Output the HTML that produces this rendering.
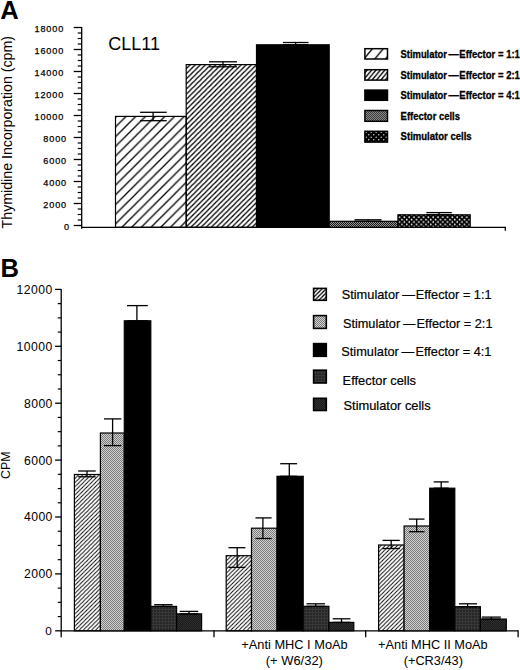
<!DOCTYPE html>
<html><head><meta charset="utf-8"><style>
html,body{margin:0;padding:0;background:#fff;width:520px;height:670px;overflow:hidden}
svg{display:block}
text{font-family:"Liberation Sans", sans-serif}
</style></head><body><svg width="520" height="670" viewBox="0 0 520 670" font-family='"Liberation Sans", sans-serif' fill="#000">
<defs>
<pattern id="hA1" patternUnits="userSpaceOnUse" width="9.7" height="9.7">
 <path d="M-1,1 L1,-1 M0,9.7 L9.7,0 M8.7,10.7 L10.7,8.7" stroke="#000" stroke-width="1.3"/>
</pattern>
<pattern id="hA2" patternUnits="userSpaceOnUse" width="5.1" height="5.1">
 <path d="M-1,1 L1,-1 M0,5.1 L5.1,0 M4.1,6.1 L6.1,4.1" stroke="#000" stroke-width="1.3"/>
</pattern>
<pattern id="hB1" patternUnits="userSpaceOnUse" width="4.1" height="4.1">
 <path d="M-1,1 L1,-1 M0,4.1 L4.1,0 M3.1,5.1 L5.1,3.1" stroke="#000" stroke-width="0.95"/>
</pattern>
<pattern id="hL1" patternUnits="userSpaceOnUse" x="362.1" y="48.2" width="10.8" height="13">
 <path d="M-1,1.2 L1,-1.2 M0,13 L10.8,0 M9.8,14.2 L11.8,11.8" stroke="#000" stroke-width="1.4"/>
</pattern>
<pattern id="hL2" patternUnits="userSpaceOnUse" x="367.9" y="69.2" width="4.4" height="5.3">
 <path d="M-1,1.2 L1,-1.2 M0,5.3 L4.4,0 M3.4,6.5 L5.4,4.1" stroke="#000" stroke-width="1.3"/>
</pattern>
<pattern id="chkL" patternUnits="userSpaceOnUse" width="2" height="2">
 <rect width="2" height="2" fill="#8a8a8a"/><rect width="1" height="1" fill="#3a3a3a"/><rect x="1" y="1" width="1" height="1" fill="#3a3a3a"/>
</pattern>
<pattern id="dotsL" patternUnits="userSpaceOnUse" x="365" y="131" width="5" height="5">
 <rect width="5" height="5" fill="#000"/>
 <circle cx="1.2" cy="1.2" r="0.75" fill="#ccc"/><circle cx="3.7" cy="3.7" r="0.75" fill="#ccc"/>
</pattern>
<pattern id="hLB1" patternUnits="userSpaceOnUse" width="4.1" height="4.1">
 <path d="M-1,1 L1,-1 M0,4.1 L4.1,0 M3.1,5.1 L5.1,3.1" stroke="#000" stroke-width="1.3"/>
</pattern>
<pattern id="chk" patternUnits="userSpaceOnUse" width="2" height="2">
 <rect width="2" height="2" fill="#d2d2d2"/><rect width="1" height="1" fill="#7a7a7a"/><rect x="1" y="1" width="1" height="1" fill="#7a7a7a"/>
</pattern>
<pattern id="chkA" patternUnits="userSpaceOnUse" width="2" height="2">
 <rect width="2" height="2" fill="#959595"/><rect width="1" height="1" fill="#1a1a1a"/><rect x="1" y="1" width="1" height="1" fill="#1a1a1a"/>
</pattern>
<pattern id="dots" patternUnits="userSpaceOnUse" width="4.8" height="4.8">
 <rect width="4.8" height="4.8" fill="#000"/>
 <circle cx="1.2" cy="1.2" r="0.85" fill="#fff"/><circle cx="3.6" cy="3.6" r="0.85" fill="#fff"/>
</pattern>
<pattern id="dk4" patternUnits="userSpaceOnUse" width="3" height="3">
 <rect width="3" height="3" fill="#262626"/><rect width="3" height="1" fill="#383838"/><rect width="1" height="3" fill="#383838"/>
</pattern>
<pattern id="dk5" patternUnits="userSpaceOnUse" width="2" height="2">
 <rect width="2" height="2" fill="#1a1a1a"/><rect width="1" height="1" fill="#303030"/><rect x="1" y="1" width="1" height="1" fill="#303030"/>
</pattern>
</defs><text x="0.2" y="18.8" font-size="25.6" font-weight="bold" text-anchor="start">A</text>
<line x1="81.7" y1="27.0" x2="81.7" y2="228.8" stroke="#000" stroke-width="1.3"/>
<line x1="73.7" y1="225.5" x2="81.7" y2="225.5" stroke="#000" stroke-width="1.3"/>
<text x="64.00" y="230.00" font-size="9.1" stroke="#000" stroke-width="0.25">0</text>
<line x1="73.7" y1="203.5" x2="81.7" y2="203.5" stroke="#000" stroke-width="1.3"/>
<text x="43.30" y="208.00" font-size="9.1" textLength="22.80" lengthAdjust="spacing" stroke="#000" stroke-width="0.25">2000</text>
<line x1="73.7" y1="181.5" x2="81.7" y2="181.5" stroke="#000" stroke-width="1.3"/>
<text x="43.30" y="186.00" font-size="9.1" textLength="22.80" lengthAdjust="spacing" stroke="#000" stroke-width="0.25">4000</text>
<line x1="73.7" y1="159.5" x2="81.7" y2="159.5" stroke="#000" stroke-width="1.3"/>
<text x="43.30" y="164.00" font-size="9.1" textLength="22.80" lengthAdjust="spacing" stroke="#000" stroke-width="0.25">6000</text>
<line x1="73.7" y1="137.5" x2="81.7" y2="137.5" stroke="#000" stroke-width="1.3"/>
<text x="43.30" y="142.00" font-size="9.1" textLength="22.80" lengthAdjust="spacing" stroke="#000" stroke-width="0.25">8000</text>
<line x1="73.7" y1="115.5" x2="81.7" y2="115.5" stroke="#000" stroke-width="1.3"/>
<text x="34.50" y="120.00" font-size="9.1" textLength="28.80" lengthAdjust="spacing" stroke="#000" stroke-width="0.25">10000</text>
<line x1="73.7" y1="93.5" x2="81.7" y2="93.5" stroke="#000" stroke-width="1.3"/>
<text x="34.50" y="98.00" font-size="9.1" textLength="28.80" lengthAdjust="spacing" stroke="#000" stroke-width="0.25">12000</text>
<line x1="73.7" y1="71.5" x2="81.7" y2="71.5" stroke="#000" stroke-width="1.3"/>
<text x="34.50" y="76.00" font-size="9.1" textLength="28.80" lengthAdjust="spacing" stroke="#000" stroke-width="0.25">14000</text>
<line x1="73.7" y1="49.5" x2="81.7" y2="49.5" stroke="#000" stroke-width="1.3"/>
<text x="34.50" y="54.00" font-size="9.1" textLength="28.80" lengthAdjust="spacing" stroke="#000" stroke-width="0.25">16000</text>
<line x1="73.7" y1="27.5" x2="81.7" y2="27.5" stroke="#000" stroke-width="1.3"/>
<text x="34.50" y="32.00" font-size="9.1" textLength="28.80" lengthAdjust="spacing" stroke="#000" stroke-width="0.25">18000</text>
<line x1="77.7" y1="220.0" x2="81.7" y2="220.0" stroke="#000" stroke-width="1.2"/>
<line x1="77.7" y1="214.5" x2="81.7" y2="214.5" stroke="#000" stroke-width="1.2"/>
<line x1="77.7" y1="209.0" x2="81.7" y2="209.0" stroke="#000" stroke-width="1.2"/>
<line x1="77.7" y1="198.0" x2="81.7" y2="198.0" stroke="#000" stroke-width="1.2"/>
<line x1="77.7" y1="192.5" x2="81.7" y2="192.5" stroke="#000" stroke-width="1.2"/>
<line x1="77.7" y1="187.0" x2="81.7" y2="187.0" stroke="#000" stroke-width="1.2"/>
<line x1="77.7" y1="176.0" x2="81.7" y2="176.0" stroke="#000" stroke-width="1.2"/>
<line x1="77.7" y1="170.5" x2="81.7" y2="170.5" stroke="#000" stroke-width="1.2"/>
<line x1="77.7" y1="165.0" x2="81.7" y2="165.0" stroke="#000" stroke-width="1.2"/>
<line x1="77.7" y1="154.0" x2="81.7" y2="154.0" stroke="#000" stroke-width="1.2"/>
<line x1="77.7" y1="148.5" x2="81.7" y2="148.5" stroke="#000" stroke-width="1.2"/>
<line x1="77.7" y1="143.0" x2="81.7" y2="143.0" stroke="#000" stroke-width="1.2"/>
<line x1="77.7" y1="132.0" x2="81.7" y2="132.0" stroke="#000" stroke-width="1.2"/>
<line x1="77.7" y1="126.5" x2="81.7" y2="126.5" stroke="#000" stroke-width="1.2"/>
<line x1="77.7" y1="121.0" x2="81.7" y2="121.0" stroke="#000" stroke-width="1.2"/>
<line x1="77.7" y1="110.0" x2="81.7" y2="110.0" stroke="#000" stroke-width="1.2"/>
<line x1="77.7" y1="104.5" x2="81.7" y2="104.5" stroke="#000" stroke-width="1.2"/>
<line x1="77.7" y1="99.00000000000001" x2="81.7" y2="99.00000000000001" stroke="#000" stroke-width="1.2"/>
<line x1="77.7" y1="88.0" x2="81.7" y2="88.0" stroke="#000" stroke-width="1.2"/>
<line x1="77.7" y1="82.5" x2="81.7" y2="82.5" stroke="#000" stroke-width="1.2"/>
<line x1="77.7" y1="77.0" x2="81.7" y2="77.0" stroke="#000" stroke-width="1.2"/>
<line x1="77.7" y1="66.0" x2="81.7" y2="66.0" stroke="#000" stroke-width="1.2"/>
<line x1="77.7" y1="60.5" x2="81.7" y2="60.5" stroke="#000" stroke-width="1.2"/>
<line x1="77.7" y1="55.0" x2="81.7" y2="55.0" stroke="#000" stroke-width="1.2"/>
<line x1="77.7" y1="44.0" x2="81.7" y2="44.0" stroke="#000" stroke-width="1.2"/>
<line x1="77.7" y1="38.5" x2="81.7" y2="38.5" stroke="#000" stroke-width="1.2"/>
<line x1="77.7" y1="33.0" x2="81.7" y2="33.0" stroke="#000" stroke-width="1.2"/>
<line x1="81.10000000000001" y1="227.3" x2="505.3" y2="227.3" stroke="#000" stroke-width="1.3"/>
<line x1="505.3" y1="226.7" x2="505.3" y2="230.8" stroke="#000" stroke-width="1.3"/>
<rect x="115.5" y="116.4" width="70.70" height="110.90" fill="url(#hA1)" stroke="#000" stroke-width="1.2"/>
<rect x="186.2" y="64.6" width="70.30" height="162.70" fill="url(#hA2)" stroke="#000" stroke-width="1.2"/>
<rect x="256.5" y="44.8" width="72.70" height="182.50" fill="#000" stroke="#000" stroke-width="1.2"/>
<rect x="329.2" y="221.3" width="68.70" height="6.00" fill="url(#chkA)" stroke="#000" stroke-width="1.2"/>
<rect x="397.9" y="214.8" width="72.30" height="12.50" fill="url(#dots)" stroke="#000" stroke-width="1.2"/>
<line x1="140.1" y1="112.3" x2="166.7" y2="112.3" stroke="#000" stroke-width="1.3"/>
<line x1="153.1" y1="112.3" x2="153.1" y2="120.7" stroke="#000" stroke-width="1.3"/>
<line x1="140.1" y1="120.7" x2="166.7" y2="120.7" stroke="#000" stroke-width="1.3"/>
<line x1="209.0" y1="61.8" x2="237.0" y2="61.8" stroke="#000" stroke-width="1.3"/>
<line x1="223.0" y1="61.8" x2="223.0" y2="66.8" stroke="#000" stroke-width="1.3"/>
<line x1="209.0" y1="66.8" x2="237.0" y2="66.8" stroke="#000" stroke-width="1.3"/>
<line x1="282.9" y1="42.5" x2="308.5" y2="42.5" stroke="#000" stroke-width="1.3"/>
<line x1="295.7" y1="42.5" x2="295.7" y2="44.8" stroke="#000" stroke-width="1.3"/>
<line x1="282.9" y1="44.8" x2="308.5" y2="44.8" stroke="#000" stroke-width="1.3"/>
<line x1="354.5" y1="219.8" x2="381.5" y2="219.8" stroke="#000" stroke-width="1.3"/>
<line x1="368.0" y1="219.8" x2="368.0" y2="221.3" stroke="#000" stroke-width="1.3"/>
<line x1="354.5" y1="221.3" x2="381.5" y2="221.3" stroke="#000" stroke-width="1.3"/>
<line x1="426.3" y1="212.6" x2="451.8" y2="212.6" stroke="#000" stroke-width="1.3"/>
<line x1="439.0" y1="212.6" x2="439.0" y2="214.8" stroke="#000" stroke-width="1.3"/>
<line x1="426.3" y1="214.8" x2="451.8" y2="214.8" stroke="#000" stroke-width="1.3"/>
<text x="108.2" y="50.0" font-size="18.0" font-weight="normal" text-anchor="start">CLL11</text>
<text transform="translate(11.5,228.4) rotate(-90)" font-size="14" textLength="192.4" lengthAdjust="spacingAndGlyphs">Thymidine Incorporation (cpm)</text>
<rect x="364.9" y="48.7" width="22.60" height="10.30" fill="url(#hL1)" stroke="#000" stroke-width="1.5"/>
<text y="57.50" font-size="10.6" font-weight="bold" stroke="#000" stroke-width="0.3"><tspan x="400.6" textLength="46.3" lengthAdjust="spacingAndGlyphs">Stimulator</tspan><tspan x="448.4" textLength="10.4" lengthAdjust="spacingAndGlyphs">—</tspan><tspan x="459.3" textLength="60.6" lengthAdjust="spacingAndGlyphs">Effector = 1:1</tspan></text>
<rect x="364.9" y="69.7" width="22.60" height="10.40" fill="url(#hL2)" stroke="#000" stroke-width="1.5"/>
<text y="78.80" font-size="10.6" font-weight="bold" stroke="#000" stroke-width="0.3"><tspan x="400.6" textLength="46.3" lengthAdjust="spacingAndGlyphs">Stimulator</tspan><tspan x="448.4" textLength="10.4" lengthAdjust="spacingAndGlyphs">—</tspan><tspan x="459.3" textLength="60.6" lengthAdjust="spacingAndGlyphs">Effector = 2:1</tspan></text>
<rect x="364.9" y="90.1" width="22.60" height="10.20" fill="#000" stroke="#000" stroke-width="1.5"/>
<text y="98.90" font-size="10.6" font-weight="bold" stroke="#000" stroke-width="0.3"><tspan x="400.6" textLength="46.3" lengthAdjust="spacingAndGlyphs">Stimulator</tspan><tspan x="448.4" textLength="10.4" lengthAdjust="spacingAndGlyphs">—</tspan><tspan x="459.3" textLength="60.6" lengthAdjust="spacingAndGlyphs">Effector = 4:1</tspan></text>
<rect x="364.9" y="110.5" width="22.60" height="10.80" fill="url(#chkL)" stroke="#000" stroke-width="1.5"/>
<text x="400.6" y="120.3" font-size="10.4" font-weight="bold" text-anchor="start" textLength="59.4" lengthAdjust="spacingAndGlyphs" stroke="#000" stroke-width="0.3">Effector cells</text>
<rect x="364.9" y="131.3" width="22.60" height="10.80" fill="url(#dotsL)" stroke="#000" stroke-width="1.5"/>
<text x="400.6" y="140.3" font-size="10.4" font-weight="bold" text-anchor="start" textLength="71.0" lengthAdjust="spacingAndGlyphs" stroke="#000" stroke-width="0.3">Stimulator cells</text>
<text x="0.4" y="277.3" font-size="25.6" font-weight="bold" text-anchor="start">B</text>
<line x1="61.2" y1="289.0" x2="61.2" y2="637.2" stroke="#000" stroke-width="1.3"/>
<line x1="55.1" y1="630.8" x2="61.2" y2="630.8" stroke="#000" stroke-width="1.3"/>
<text x="45.30" y="635.20" font-size="11.8">0</text>
<line x1="55.1" y1="573.9" x2="61.2" y2="573.9" stroke="#000" stroke-width="1.3"/>
<text x="24.10" y="578.30" font-size="12.2" textLength="28.20" lengthAdjust="spacing">2000</text>
<line x1="55.1" y1="517.0" x2="61.2" y2="517.0" stroke="#000" stroke-width="1.3"/>
<text x="24.10" y="521.40" font-size="12.2" textLength="28.20" lengthAdjust="spacing">4000</text>
<line x1="55.1" y1="460.09999999999997" x2="61.2" y2="460.09999999999997" stroke="#000" stroke-width="1.3"/>
<text x="24.10" y="464.50" font-size="12.2" textLength="28.20" lengthAdjust="spacing">6000</text>
<line x1="55.1" y1="403.19999999999993" x2="61.2" y2="403.19999999999993" stroke="#000" stroke-width="1.3"/>
<text x="24.10" y="407.60" font-size="12.2" textLength="28.20" lengthAdjust="spacing">8000</text>
<line x1="55.1" y1="346.29999999999995" x2="61.2" y2="346.29999999999995" stroke="#000" stroke-width="1.3"/>
<text x="16.40" y="350.70" font-size="12.2" textLength="35.90" lengthAdjust="spacing">10000</text>
<line x1="55.1" y1="289.4" x2="61.2" y2="289.4" stroke="#000" stroke-width="1.3"/>
<text x="16.40" y="293.80" font-size="12.2" textLength="35.90" lengthAdjust="spacing">12000</text>
<line x1="57.8" y1="616.5749999999999" x2="61.2" y2="616.5749999999999" stroke="#000" stroke-width="1.2"/>
<line x1="57.8" y1="602.3499999999999" x2="61.2" y2="602.3499999999999" stroke="#000" stroke-width="1.2"/>
<line x1="57.8" y1="588.125" x2="61.2" y2="588.125" stroke="#000" stroke-width="1.2"/>
<line x1="57.8" y1="559.675" x2="61.2" y2="559.675" stroke="#000" stroke-width="1.2"/>
<line x1="57.8" y1="545.4499999999999" x2="61.2" y2="545.4499999999999" stroke="#000" stroke-width="1.2"/>
<line x1="57.8" y1="531.2249999999999" x2="61.2" y2="531.2249999999999" stroke="#000" stroke-width="1.2"/>
<line x1="57.8" y1="502.775" x2="61.2" y2="502.775" stroke="#000" stroke-width="1.2"/>
<line x1="57.8" y1="488.54999999999995" x2="61.2" y2="488.54999999999995" stroke="#000" stroke-width="1.2"/>
<line x1="57.8" y1="474.32499999999993" x2="61.2" y2="474.32499999999993" stroke="#000" stroke-width="1.2"/>
<line x1="57.8" y1="445.87499999999994" x2="61.2" y2="445.87499999999994" stroke="#000" stroke-width="1.2"/>
<line x1="57.8" y1="431.65" x2="61.2" y2="431.65" stroke="#000" stroke-width="1.2"/>
<line x1="57.8" y1="417.42499999999995" x2="61.2" y2="417.42499999999995" stroke="#000" stroke-width="1.2"/>
<line x1="57.8" y1="388.97499999999997" x2="61.2" y2="388.97499999999997" stroke="#000" stroke-width="1.2"/>
<line x1="57.8" y1="374.74999999999994" x2="61.2" y2="374.74999999999994" stroke="#000" stroke-width="1.2"/>
<line x1="57.8" y1="360.525" x2="61.2" y2="360.525" stroke="#000" stroke-width="1.2"/>
<line x1="57.8" y1="332.07499999999993" x2="61.2" y2="332.07499999999993" stroke="#000" stroke-width="1.2"/>
<line x1="57.8" y1="317.84999999999997" x2="61.2" y2="317.84999999999997" stroke="#000" stroke-width="1.2"/>
<line x1="57.8" y1="303.62499999999994" x2="61.2" y2="303.62499999999994" stroke="#000" stroke-width="1.2"/>
<line x1="60.6" y1="630.8" x2="518.1" y2="630.8" stroke="#000" stroke-width="1.3"/>
<line x1="214.0" y1="630.2" x2="214.0" y2="637.2" stroke="#000" stroke-width="1.3"/>
<line x1="365.7" y1="630.2" x2="365.7" y2="637.2" stroke="#000" stroke-width="1.3"/>
<line x1="518.1" y1="630.2" x2="518.1" y2="637.2" stroke="#000" stroke-width="1.3"/>
<rect x="74.4" y="474.5" width="26.00" height="156.30" fill="url(#hB1)" stroke="#000" stroke-width="1.2"/>
<rect x="100.4" y="433.0" width="23.90" height="197.80" fill="url(#chk)" stroke="#000" stroke-width="1.2"/>
<rect x="124.3" y="320.8" width="26.50" height="310.00" fill="#000" stroke="#000" stroke-width="1.2"/>
<rect x="150.8" y="606.4" width="25.80" height="24.40" fill="url(#dk4)" stroke="#000" stroke-width="1.2"/>
<rect x="176.6" y="613.9" width="25.00" height="16.90" fill="url(#dk5)" stroke="#000" stroke-width="1.2"/>
<rect x="226.2" y="555.7" width="25.30" height="75.10" fill="url(#hB1)" stroke="#000" stroke-width="1.2"/>
<rect x="251.5" y="528.2" width="25.50" height="102.60" fill="url(#chk)" stroke="#000" stroke-width="1.2"/>
<rect x="277.0" y="476.3" width="26.20" height="154.50" fill="#000" stroke="#000" stroke-width="1.2"/>
<rect x="303.2" y="606.3" width="25.70" height="24.50" fill="url(#dk4)" stroke="#000" stroke-width="1.2"/>
<rect x="328.9" y="622.4" width="24.90" height="8.40" fill="url(#dk5)" stroke="#000" stroke-width="1.2"/>
<rect x="378.6" y="545.0" width="25.50" height="85.80" fill="url(#hB1)" stroke="#000" stroke-width="1.2"/>
<rect x="404.1" y="526.0" width="25.60" height="104.80" fill="url(#chk)" stroke="#000" stroke-width="1.2"/>
<rect x="429.7" y="488.2" width="25.10" height="142.60" fill="#000" stroke="#000" stroke-width="1.2"/>
<rect x="454.8" y="606.7" width="25.60" height="24.10" fill="url(#dk4)" stroke="#000" stroke-width="1.2"/>
<rect x="480.4" y="619.1" width="25.90" height="11.70" fill="url(#dk5)" stroke="#000" stroke-width="1.2"/>
<line x1="78.2" y1="471.0" x2="95.7" y2="471.0" stroke="#000" stroke-width="1.3"/>
<line x1="87.0" y1="471.0" x2="87.0" y2="476.8" stroke="#000" stroke-width="1.3"/>
<line x1="78.2" y1="476.8" x2="95.7" y2="476.8" stroke="#000" stroke-width="1.3"/>
<line x1="104.0" y1="418.9" x2="121.3" y2="418.9" stroke="#000" stroke-width="1.3"/>
<line x1="112.6" y1="418.9" x2="112.6" y2="445.6" stroke="#000" stroke-width="1.3"/>
<line x1="104.0" y1="445.6" x2="121.3" y2="445.6" stroke="#000" stroke-width="1.3"/>
<line x1="127.0" y1="305.6" x2="147.8" y2="305.6" stroke="#000" stroke-width="1.3"/>
<line x1="136.9" y1="305.6" x2="136.9" y2="320.8" stroke="#000" stroke-width="1.3"/>
<line x1="127.0" y1="320.8" x2="147.8" y2="320.8" stroke="#000" stroke-width="1.3"/>
<line x1="154.2" y1="604.7" x2="172.6" y2="604.7" stroke="#000" stroke-width="1.3"/>
<line x1="163.4" y1="604.7" x2="163.4" y2="606.4" stroke="#000" stroke-width="1.3"/>
<line x1="154.2" y1="606.4" x2="172.6" y2="606.4" stroke="#000" stroke-width="1.3"/>
<line x1="179.7" y1="611.4" x2="198.2" y2="611.4" stroke="#000" stroke-width="1.3"/>
<line x1="189.0" y1="611.4" x2="189.0" y2="613.9" stroke="#000" stroke-width="1.3"/>
<line x1="179.7" y1="613.9" x2="198.2" y2="613.9" stroke="#000" stroke-width="1.3"/>
<line x1="228.5" y1="547.7" x2="245.4" y2="547.7" stroke="#000" stroke-width="1.3"/>
<line x1="237.2" y1="547.7" x2="237.2" y2="567.4" stroke="#000" stroke-width="1.3"/>
<line x1="228.5" y1="567.4" x2="245.4" y2="567.4" stroke="#000" stroke-width="1.3"/>
<line x1="255.5" y1="517.9" x2="271.6" y2="517.9" stroke="#000" stroke-width="1.3"/>
<line x1="262.9" y1="517.9" x2="262.9" y2="538.5" stroke="#000" stroke-width="1.3"/>
<line x1="255.5" y1="538.5" x2="271.6" y2="538.5" stroke="#000" stroke-width="1.3"/>
<line x1="280.2" y1="463.7" x2="297.1" y2="463.7" stroke="#000" stroke-width="1.3"/>
<line x1="289.3" y1="463.7" x2="289.3" y2="476.3" stroke="#000" stroke-width="1.3"/>
<line x1="280.2" y1="476.3" x2="297.1" y2="476.3" stroke="#000" stroke-width="1.3"/>
<line x1="306.5" y1="603.8" x2="325.0" y2="603.8" stroke="#000" stroke-width="1.3"/>
<line x1="315.8" y1="603.8" x2="315.8" y2="606.3" stroke="#000" stroke-width="1.3"/>
<line x1="306.5" y1="606.3" x2="325.0" y2="606.3" stroke="#000" stroke-width="1.3"/>
<line x1="332.7" y1="618.8" x2="350.4" y2="618.8" stroke="#000" stroke-width="1.3"/>
<line x1="341.5" y1="618.8" x2="341.5" y2="622.4" stroke="#000" stroke-width="1.3"/>
<line x1="332.7" y1="622.4" x2="350.4" y2="622.4" stroke="#000" stroke-width="1.3"/>
<line x1="382.5" y1="540.4" x2="399.8" y2="540.4" stroke="#000" stroke-width="1.3"/>
<line x1="391.2" y1="540.4" x2="391.2" y2="548.5" stroke="#000" stroke-width="1.3"/>
<line x1="382.5" y1="548.5" x2="399.8" y2="548.5" stroke="#000" stroke-width="1.3"/>
<line x1="408.9" y1="519.1" x2="424.5" y2="519.1" stroke="#000" stroke-width="1.3"/>
<line x1="416.7" y1="519.1" x2="416.7" y2="531.7" stroke="#000" stroke-width="1.3"/>
<line x1="408.9" y1="531.7" x2="424.5" y2="531.7" stroke="#000" stroke-width="1.3"/>
<line x1="433.7" y1="481.9" x2="448.7" y2="481.9" stroke="#000" stroke-width="1.3"/>
<line x1="441.2" y1="481.9" x2="441.2" y2="488.2" stroke="#000" stroke-width="1.3"/>
<line x1="433.7" y1="488.2" x2="448.7" y2="488.2" stroke="#000" stroke-width="1.3"/>
<line x1="459.0" y1="603.8" x2="477.0" y2="603.8" stroke="#000" stroke-width="1.3"/>
<line x1="467.6" y1="603.8" x2="467.6" y2="606.7" stroke="#000" stroke-width="1.3"/>
<line x1="459.0" y1="606.7" x2="477.0" y2="606.7" stroke="#000" stroke-width="1.3"/>
<line x1="481.7" y1="617.1" x2="500.8" y2="617.1" stroke="#000" stroke-width="1.3"/>
<line x1="491.3" y1="617.1" x2="491.3" y2="619.1" stroke="#000" stroke-width="1.3"/>
<line x1="481.7" y1="619.1" x2="500.8" y2="619.1" stroke="#000" stroke-width="1.3"/>
<text transform="translate(9.8,479.0) rotate(-90)" font-size="12.4" textLength="27.6" lengthAdjust="spacingAndGlyphs">CPM</text>
<text x="241.3" y="649.4" font-size="12.8" font-weight="normal" text-anchor="start" textLength="106.4" lengthAdjust="spacingAndGlyphs">+Anti MHC I MoAb</text>
<text x="265.8" y="665.3" font-size="12.8" font-weight="normal" text-anchor="start" textLength="57.1" lengthAdjust="spacingAndGlyphs">(+ W6/32)</text>
<text x="378.1" y="649.4" font-size="12.8" font-weight="normal" text-anchor="start" textLength="109.6" lengthAdjust="spacingAndGlyphs">+Anti MHC II MoAb</text>
<text x="403.7" y="665.3" font-size="12.8" font-weight="normal" text-anchor="start" textLength="59.2" lengthAdjust="spacingAndGlyphs">(+CR3/43)</text>
<rect x="313.6" y="288.40000000000003" width="12.70" height="11.90" fill="url(#hLB1)" stroke="#000" stroke-width="1.6"/>
<text y="298.6" font-size="12.7" stroke="#000" stroke-width="0.2"><tspan x="341.7" textLength="57.6" lengthAdjust="spacingAndGlyphs">Stimulator</tspan><tspan x="402.2" textLength="12.7" lengthAdjust="spacingAndGlyphs">—</tspan><tspan x="415.8" textLength="75.7" lengthAdjust="spacingAndGlyphs">Effector = 1:1</tspan></text>
<rect x="313.6" y="315.6" width="12.70" height="12.80" fill="url(#chk)" stroke="#000" stroke-width="1.6"/>
<text y="328.2" font-size="12.7" stroke="#000" stroke-width="0.2"><tspan x="342.9" textLength="57.3" lengthAdjust="spacingAndGlyphs">Stimulator</tspan><tspan x="403.3" textLength="12.1" lengthAdjust="spacingAndGlyphs">—</tspan><tspan x="416.6" textLength="75.9" lengthAdjust="spacingAndGlyphs">Effector = 2:1</tspan></text>
<rect x="313.6" y="343.6" width="12.70" height="12.70" fill="#000" stroke="#000" stroke-width="1.6"/>
<text y="356.4" font-size="12.7" stroke="#000" stroke-width="0.2"><tspan x="341.3" textLength="57.5" lengthAdjust="spacingAndGlyphs">Stimulator</tspan><tspan x="401.6" textLength="12.7" lengthAdjust="spacingAndGlyphs">—</tspan><tspan x="415.5" textLength="75.9" lengthAdjust="spacingAndGlyphs">Effector = 4:1</tspan></text>
<rect x="313.6" y="370.20000000000005" width="12.70" height="12.80" fill="url(#dk4)" stroke="#000" stroke-width="1.6"/>
<text y="384.7" font-size="12.7" stroke="#000" stroke-width="0.2"><tspan x="342.6" textLength="73.4" lengthAdjust="spacingAndGlyphs">Effector cells</tspan></text>
<rect x="313.6" y="398.3" width="12.70" height="12.20" fill="url(#dk5)" stroke="#000" stroke-width="1.6"/>
<text y="410.3" font-size="12.7" stroke="#000" stroke-width="0.2"><tspan x="343.5" textLength="87.1" lengthAdjust="spacingAndGlyphs">Stimulator cells</tspan></text></svg></body></html>
